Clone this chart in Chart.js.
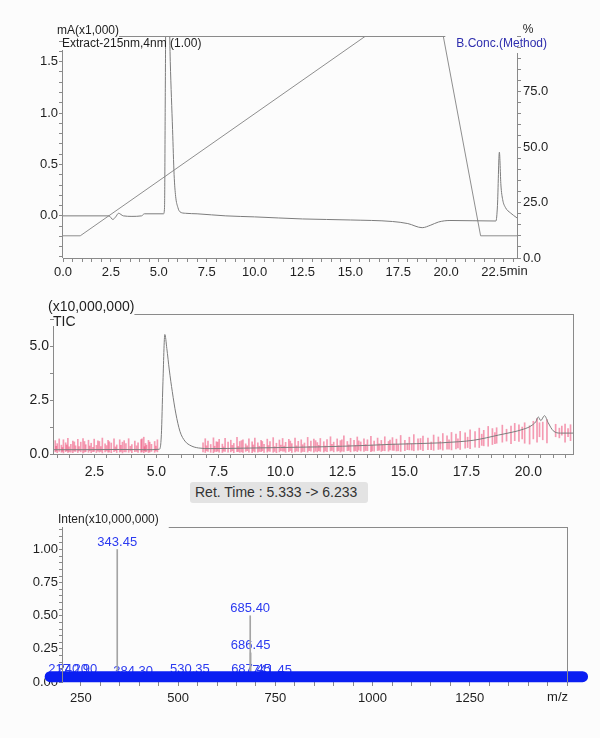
<!DOCTYPE html>
<html>
<head>
<meta charset="utf-8">
<script src="https://cdn.jsdelivr.net/npm/chart.js@4.4.1/dist/chart.umd.min.js"></script>
<style>
  html, body { margin: 0; padding: 0; background: #fcfcfc; }
  #page { position: relative; width: 600px; height: 738px; overflow: hidden; }
  #page canvas { position: absolute; left: 0; }
  #uv { top: 0; }
  #tic { top: 282px; }
  #ms { top: 480px; }
  #ret-time {
    position: absolute; left: 190px; top: 482px; width: 178px; height: 21px;
    background: #e3e3e3; border-radius: 3px; box-sizing: border-box; padding-left: 5px;
    font: 14px "Liberation Sans", Arial, sans-serif; line-height: 21px; color: #333;
  }
</style>
</head>
<body>
<div id="page">
  <canvas id="uv" width="600" height="282"></canvas>
  <canvas id="tic" width="600" height="198"></canvas>
  <canvas id="ms" width="600" height="258"></canvas>
  <div id="ret-time">Ret. Time : 5.333 -&gt; 6.233</div>
</div>
<script>
const FONT = '"Liberation Sans", Arial, sans-serif';
const AXIS = "#8a8a8a";
const TRACE = "#7c7c7c";
const INK = "#1e1e1e";

// PDA chromatogram, 215 nm (mA x1,000)
const uvTimes = [0.0, 2.4, 2.6, 2.75, 2.9, 3.15, 3.6, 4.1, 4.25, 5.25, 5.3, 5.34, 5.38, 5.5, 5.6, 5.72, 5.8, 5.88, 6.0, 6.1, 6.4, 7.0, 8.5, 10.0, 12.5, 15.0, 17.2, 18.0, 18.75, 19.2, 19.6, 20.2, 22.6, 22.68, 22.78, 22.86, 22.95, 23.1, 23.35, 23.7];
const uvAbs = [0.0, 0.0, -0.035, -0.01, 0.025, 0.0, -0.005, 0.0, 0.02, 0.02, 0.08, 1.2, 2.3, 2.3, 1.5, 0.84, 0.4, 0.19, 0.08, 0.04, 0.025, 0.02, 0.0, -0.01, -0.03, -0.04, -0.055, -0.075, -0.115, -0.09, -0.06, -0.045, -0.05, 0.1, 0.62, 0.3, 0.16, 0.08, 0.03, -0.02];

// B.Conc. gradient program (%)
const gradTimes = [0, 0.9, 15.8, 19.85, 21.8, 23.7];
const gradConc = [10, 10, 100, 100, 10, 10];

// TIC (x10,000,000)
const ticTimes = [0.87, 2.0, 3.5, 4.6, 5.12, 5.2, 5.26, 5.34, 5.42, 5.52, 5.64, 5.78, 5.95, 6.15, 6.4, 6.7, 7.2, 8.5, 10.0, 11.5, 12.5, 13.5, 14.5, 15.5, 16.5, 17.2, 17.8, 18.3, 18.8, 19.3, 19.8, 20.1, 20.3, 20.4, 20.5, 20.65, 20.8, 21.0, 21.3, 21.8];
const ticInten = [0.20, 0.20, 0.21, 0.20, 0.22, 0.9, 3.2, 5.55, 4.9, 3.9, 2.9, 1.9, 1.05, 0.6, 0.38, 0.28, 0.25, 0.27, 0.30, 0.33, 0.36, 0.40, 0.45, 0.48, 0.52, 0.57, 0.64, 0.75, 0.88, 1.0, 1.15, 1.3, 1.5, 1.72, 1.55, 1.78, 1.45, 1.08, 0.97, 0.97];

// red noise spikes on the TIC: [time, low, high]
const noiseSpikes = [
  [0.92, 0.10, 0.62], [0.96, 0.14, 0.36], [1.00, 0.06, 0.48], [1.08, 0.12, 0.70], [1.17, 0.08, 0.41],
  [1.21, 0.12, 0.30], [1.25, 0.05, 0.66], [1.34, 0.11, 0.52], [1.38, 0.15, 0.42], [1.43, 0.07, 0.73],
  [1.48, 0.10, 0.33], [1.55, 0.09, 0.45], [1.63, 0.06, 0.60], [1.69, 0.13, 0.56], [1.74, 0.12, 0.38],
  [1.83, 0.07, 0.68], [1.88, 0.14, 0.35], [1.95, 0.10, 0.55], [2.04, 0.05, 0.72], [2.10, 0.09, 0.58],
  [2.15, 0.11, 0.43], [2.26, 0.08, 0.64], [2.31, 0.15, 0.37], [2.37, 0.06, 0.50], [2.44, 0.11, 0.31],
  [2.49, 0.12, 0.69], [2.58, 0.07, 0.40], [2.64, 0.13, 0.61], [2.70, 0.09, 0.58], [2.76, 0.12, 0.34],
  [2.82, 0.05, 0.74], [2.93, 0.10, 0.47], [2.99, 0.14, 0.39], [3.05, 0.08, 0.63], [3.10, 0.09, 0.57],
  [3.18, 0.06, 0.51], [3.29, 0.11, 0.70], [3.35, 0.15, 0.33], [3.40, 0.07, 0.42], [3.52, 0.09, 0.66],
  [3.57, 0.12, 0.40], [3.63, 0.05, 0.55], [3.70, 0.10, 0.62], [3.77, 0.10, 0.48], [3.88, 0.08, 0.71],
  [3.95, 0.14, 0.36], [4.01, 0.06, 0.44], [4.13, 0.11, 0.60], [4.20, 0.12, 0.38], [4.26, 0.07, 0.52],
  [4.38, 0.09, 0.67], [4.42, 0.10, 0.70], [4.49, 0.06, 0.78], [4.52, 0.15, 0.34], [4.56, 0.10, 0.49],
  [4.60, 0.12, 0.41], [4.68, 0.07, 0.63], [4.73, 0.09, 0.55], [4.80, 0.12, 0.45], [4.93, 0.08, 0.58],
  [4.98, 0.14, 0.37], [5.04, 0.10, 0.66],
  [6.88, 0.10, 0.52], [6.97, 0.07, 0.71], [7.02, 0.15, 0.38], [7.08, 0.12, 0.60], [7.19, 0.08, 0.44],
  [7.30, 0.06, 0.75], [7.35, 0.12, 0.36], [7.42, 0.11, 0.57], [7.47, 0.14, 0.55], [7.53, 0.09, 0.68],
  [7.66, 0.07, 0.46], [7.71, 0.13, 0.33], [7.77, 0.12, 0.73], [7.89, 0.08, 0.55], [8.00, 0.10, 0.64],
  [8.06, 0.15, 0.40], [8.12, 0.06, 0.49], [8.25, 0.11, 0.77], [8.30, 0.12, 0.35], [8.36, 0.08, 0.58],
  [8.43, 0.10, 0.62], [8.49, 0.07, 0.66], [8.60, 0.12, 0.47], [8.66, 0.15, 0.38], [8.73, 0.09, 0.70],
  [8.86, 0.06, 0.56], [8.91, 0.13, 0.42], [8.97, 0.10, 0.74], [9.09, 0.08, 0.52], [9.15, 0.12, 0.36],
  [9.22, 0.11, 0.63], [9.27, 0.15, 0.58], [9.34, 0.07, 0.45], [9.47, 0.09, 0.69], [9.52, 0.14, 0.39],
  [9.58, 0.12, 0.58], [9.71, 0.08, 0.76], [9.77, 0.12, 0.34], [9.84, 0.06, 0.50], [9.96, 0.10, 0.65],
  [10.02, 0.15, 0.41], [10.09, 0.13, 0.72], [10.15, 0.13, 0.37], [10.21, 0.08, 0.54], [10.34, 0.11, 0.68],
  [10.40, 0.16, 0.60], [10.46, 0.07, 0.48], [10.59, 0.10, 0.74], [10.65, 0.14, 0.38], [10.72, 0.12, 0.59],
  [10.84, 0.08, 0.66], [10.90, 0.12, 0.43], [10.97, 0.11, 0.51], [11.10, 0.09, 0.77], [11.16, 0.15, 0.36],
  [11.23, 0.13, 0.60], [11.35, 0.08, 0.69], [11.42, 0.13, 0.62], [11.49, 0.10, 0.53], [11.55, 0.16, 0.40],
  [11.61, 0.12, 0.72], [11.75, 0.09, 0.57], [11.81, 0.14, 0.37], [11.88, 0.11, 0.67], [12.02, 0.14, 0.80],
  [12.08, 0.17, 0.45], [12.15, 0.10, 0.55], [12.29, 0.13, 0.70], [12.35, 0.15, 0.39], [12.42, 0.09, 0.62],
  [12.48, 0.13, 0.66], [12.56, 0.12, 0.84], [12.70, 0.15, 0.58], [12.76, 0.17, 0.42], [12.83, 0.10, 0.73],
  [12.97, 0.13, 0.64], [13.03, 0.15, 0.40], [13.10, 0.11, 0.79], [13.16, 0.18, 0.61], [13.24, 0.14, 0.56],
  [13.37, 0.12, 0.71], [13.44, 0.16, 0.44], [13.51, 0.15, 0.66], [13.65, 0.11, 0.82], [13.70, 0.14, 0.41],
  [13.78, 0.13, 0.60], [13.92, 0.16, 0.74], [13.98, 0.18, 0.47], [14.07, 0.12, 0.63], [14.13, 0.16, 0.43],
  [14.21, 0.15, 0.80], [14.36, 0.13, 0.58], [14.42, 0.19, 0.65], [14.52, 0.17, 0.76], [14.58, 0.17, 0.46],
  [14.68, 0.14, 0.69], [14.75, 0.15, 0.44], [14.85, 0.12, 0.86], [15.02, 0.16, 0.64], [15.12, 0.20, 0.50],
  [15.20, 0.19, 0.78], [15.30, 0.18, 0.47], [15.38, 0.15, 0.90], [15.55, 0.18, 0.70], [15.65, 0.21, 0.72],
  [15.75, 0.16, 0.83], [15.95, 0.20, 0.74], [16.08, 0.20, 0.55], [16.18, 0.17, 0.88], [16.37, 0.21, 0.79],
  [16.45, 0.23, 0.58], [16.55, 0.18, 0.95], [16.72, 0.22, 0.84], [16.80, 0.22, 0.66], [16.90, 0.19, 1.00],
  [17.08, 0.24, 0.92], [17.16, 0.28, 0.70], [17.25, 0.21, 1.05], [17.45, 0.27, 0.98], [17.55, 0.30, 0.78],
  [17.65, 0.25, 1.12], [17.85, 0.32, 1.04], [18.02, 0.30, 1.20], [18.12, 0.40, 0.92], [18.20, 0.38, 1.10],
  [18.38, 0.36, 1.28], [18.55, 0.44, 1.18], [18.65, 0.48, 1.00], [18.72, 0.50, 1.22], [18.95, 0.55, 1.34],
  [19.12, 0.60, 1.15], [19.30, 0.48, 1.30], [19.45, 0.62, 1.42], [19.62, 0.58, 1.36], [19.75, 0.70, 1.25],
  [19.85, 0.50, 1.45], [20.05, 0.46, 1.31], [20.20, 0.70, 1.52], [20.35, 0.55, 1.65], [20.45, 0.80, 1.45],
  [20.58, 0.66, 1.48], [20.75, 0.52, 1.60], [21.10, 0.80, 1.38], [21.25, 0.75, 1.20], [21.35, 0.88, 1.30],
  [21.48, 0.55, 1.39], [21.60, 0.80, 1.18], [21.70, 0.62, 1.36]
];

// mass spectrum, Ret. Time 5.333 -> 6.233
const peakMz = [217.20, 240.90, 343.45, 384.30, 530.35, 685.40, 686.45, 687.45, 741.45];
const peakInten = [0.04, 0.04, 1.00, 0.02, 0.04, 0.50, 0.22, 0.04, 0.03];
const peakLabels = ["217.20", "240.90", "343.45", "384.30", "530.35", "685.40", "686.45", "687.45", "741.45"];
// the smeared run of small labelled peaks along the baseline
const bandMz = [171, 1540];
const bandInten = [0.04, 0.04];

function points(xs, ys) {
  return xs.map((x, i) => ({ x, y: ys[i] }));
}

function majorLabel(every, digits) {
  return (value) => {
    const r = value / every;
    if (Math.abs(r - Math.round(r)) > 1e-6) return "";
    return value.toFixed(digits);
  };
}

function axis(o) {
  return {
    type: "linear",
    position: o.position,
    min: o.min,
    max: o.max,
    offset: false,
    border: { display: false },
    grid: { offset: false, drawOnChartArea: false, drawTicks: true, tickLength: 4, tickColor: AXIS, tickWidth: 1 },
    ticks: {
      stepSize: o.step,
      includeBounds: false,
      autoSkip: false,
      maxRotation: 0,
      padding: o.pad,
      color: INK,
      font: { family: FONT, size: o.font },
      callback: o.label,
    },
    afterFit: (scale) => {
      if (scale.isHorizontal()) scale.height = o.size;
      else scale.width = o.size;
    },
  };
}

function hline(ctx, x0, x1, y) {
  y = Math.round(y) + 0.5;
  ctx.beginPath();
  ctx.moveTo(x0, y);
  ctx.lineTo(x1, y);
  ctx.stroke();
}

function vline(ctx, x, y0, y1) {
  x = Math.round(x) - 0.5;
  ctx.beginPath();
  ctx.moveTo(x, y0);
  ctx.lineTo(x, y1);
  ctx.stroke();
}

function decor(draw, hook) {
  return {
    id: "decor",
    [hook || "afterDraw"](chart) {
      const ctx = chart.ctx;
      ctx.save();
      ctx.strokeStyle = AXIS;
      ctx.lineWidth = 1;
      draw(chart, ctx, chart.chartArea);
      ctx.restore();
    },
  };
}

const baseOptions = {
  responsive: false,
  animation: false,
  events: [],
  plugins: { legend: { display: false }, tooltip: { enabled: false } },
};

// ---- panel 1: PDA + gradient
new Chart(document.getElementById("uv"), {
  type: "line",
  data: {
    datasets: [
      {
        data: points(uvTimes, uvAbs),
        yAxisID: "y",
        borderColor: TRACE,
        borderWidth: 1,
        pointRadius: 0,
        cubicInterpolationMode: "monotone",
      },
      {
        data: points(gradTimes, gradConc),
        yAxisID: "y2",
        borderColor: "#8e8e8e",
        borderWidth: 1,
        pointRadius: 0,
        tension: 0,
      },
    ],
  },
  options: {
    ...baseOptions,
    layout: { padding: { top: 36, left: 0, right: 0, bottom: 0 } },
    scales: {
      x: axis({ position: "bottom", min: 0, max: 23.7, step: 0.5, pad: 3, font: 13, size: 24, label: majorLabel(2.5, 1) }),
      y: axis({ position: "left", min: -0.41, max: 1.75, step: 0.1, pad: 1, font: 13, size: 63, label: majorLabel(0.5, 1) }),
      y2: axis({
        position: "right", min: 0, max: 100, step: 5, pad: 2, font: 13, size: 83,
        label: (v) => (v < 100 && v % 25 === 0 ? v.toFixed(1) : ""),
      }),
    },
  },
  plugins: [
    decor((chart, ctx, a) => {
      ctx.font = `12px ${FONT}`;
      ctx.fillStyle = INK;
      ctx.textBaseline = "alphabetic";
      ctx.textAlign = "left";
      const unit = "mA(x1,000)";
      ctx.fillText(unit, a.left - 6, a.top - 2);
      const unitEnd = a.left - 6 + ctx.measureText(unit).width;
      ctx.fillText("Extract-215nm,4nm (1.00)", a.left - 1, a.top + 11);
      ctx.textAlign = "center";
      ctx.fillText("%", a.right + 11, a.top - 3);
      ctx.fillStyle = "#2e2eae";
      ctx.textAlign = "right";
      ctx.fillText("B.Conc.(Method)", a.right + 30, a.top + 11);
      const concStart = a.right + 30 - ctx.measureText("B.Conc.(Method)").width;

      hline(ctx, unitEnd, concStart - 11, a.top);
      vline(ctx, a.left, a.top + 14, a.bottom);
      vline(ctx, a.right + 1, a.top + 17, a.bottom);
      hline(ctx, a.left, a.right + 1, a.bottom);

      // unit suffix after the last labelled time tick
      ctx.font = `13px ${FONT}`;
      ctx.fillStyle = INK;
      ctx.textAlign = "left";
      ctx.textBaseline = "top";
      const x = chart.scales.x.getPixelForValue(22.5) + ctx.measureText("22.5").width / 2;
      ctx.fillText("min", x, a.bottom + 7);
    }),
  ],
});

// ---- panel 2: TIC
new Chart(document.getElementById("tic"), {
  type: "line",
  data: {
    datasets: [
      {
        data: points(ticTimes, ticInten),
        borderColor: TRACE,
        borderWidth: 1,
        pointRadius: 0,
        cubicInterpolationMode: "monotone",
        order: 0,
      },
      {
        type: "bar",
        data: noiseSpikes.map(([t, lo, hi]) => ({ x: t, y: [lo, hi] })),
        backgroundColor: "rgba(238, 56, 104, 0.5)",
        borderWidth: 0,
        barThickness: 1,
        order: 1,
      },
    ],
  },
  options: {
    ...baseOptions,
    layout: { padding: { top: 32, left: 0, right: 27, bottom: 0 } },
    scales: {
      x: axis({ position: "bottom", min: 0.87, max: 21.8, step: 0.5, pad: 6, font: 14, size: 26, label: majorLabel(2.5, 1) }),
      y: axis({ position: "left", min: 0, max: 6.5, step: 1.25, pad: 1, font: 14, size: 54, label: majorLabel(2.5, 1) }),
    },
  },
  plugins: [
    decor((chart, ctx, a) => {
      ctx.font = `14px ${FONT}`;
      ctx.fillStyle = INK;
      ctx.textBaseline = "alphabetic";
      ctx.textAlign = "left";
      const unit = "(x10,000,000)";
      ctx.fillText(unit, a.left - 6, a.top - 3);
      const unitEnd = a.left - 6 + ctx.measureText(unit).width;
      ctx.fillText("TIC", a.left - 1, a.top + 12);

      hline(ctx, unitEnd, a.right + 1, a.top);
      vline(ctx, a.left, a.top + 12, a.bottom);
      vline(ctx, a.right + 1, a.top, a.bottom);
      hline(ctx, a.left, a.right + 1, a.bottom);
    }),
  ],
});

// ---- panel 3: mass spectrum
new Chart(document.getElementById("ms"), {
  type: "bar",
  data: {
    datasets: [
      {
        type: "line",
        data: points(bandMz, bandInten),
        borderColor: "#0a1ef2",
        borderWidth: 11,
        borderCapStyle: "round",
        pointRadius: 0,
        clip: false,
        order: 0,
      },
      {
        data: points(peakMz, peakInten),
        backgroundColor: "#a4a4a4",
        borderWidth: 0,
        barThickness: 1,
        order: 1,
      },
    ],
  },
  options: {
    ...baseOptions,
    layout: { padding: { top: 47, left: 0, right: 33, bottom: 30 } },
    scales: {
      x: axis({
        position: "bottom", min: 204, max: 1500, step: 50, pad: 5, font: 13, size: 26,
        label: (v) => (v % 250 === 0 && v < 1500 ? String(v) : ""),
      }),
      y: axis({ position: "left", min: 0, max: 1.17, step: 0.05, pad: 1, font: 13, size: 63, label: majorLabel(0.25, 2) }),
    },
  },
  plugins: [
    // peak labels go under the baseline band, as in the original trace
    decor((chart, ctx) => {
      ctx.font = `13px ${FONT}`;
      ctx.fillStyle = "#2b3af0";
      ctx.textAlign = "center";
      ctx.textBaseline = "bottom";
      peakMz.forEach((m, i) => {
        const x = chart.scales.x.getPixelForValue(m);
        const y = chart.scales.y.getPixelForValue(peakInten[i]);
        ctx.fillText(peakLabels[i], x, y - 1);
      });
    }, "beforeDatasetsDraw"),
    {
      id: "frame",
      afterDraw(chart) {
        const ctx = chart.ctx;
        const a = chart.chartArea;
        ctx.save();
        ctx.strokeStyle = AXIS;
        ctx.lineWidth = 1;
        ctx.font = `12px ${FONT}`;
        ctx.fillStyle = INK;
        ctx.textBaseline = "alphabetic";
        ctx.textAlign = "left";
        const unit = "Inten(x10,000,000)";
        ctx.fillText(unit, a.left - 5, a.top - 4);
        const unitEnd = a.left - 5 + ctx.measureText(unit).width;

        hline(ctx, unitEnd + 10, a.right + 1, a.top);
        vline(ctx, a.left, a.top, a.bottom);
        vline(ctx, a.right + 1, a.top, a.bottom);

        ctx.font = `13px ${FONT}`;
        ctx.textAlign = "right";
        ctx.textBaseline = "top";
        ctx.fillText("m/z", a.right + 1, a.bottom + 9);
        ctx.restore();
      },
    },
  ],
});
</script>
</body>
</html>
